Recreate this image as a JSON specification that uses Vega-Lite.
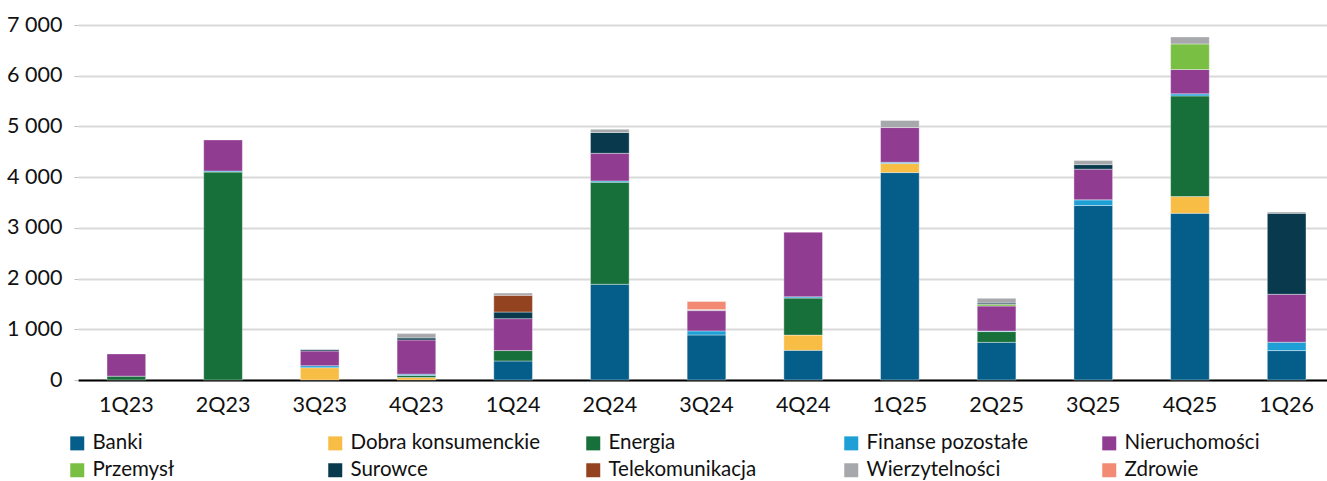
{
  "$schema": "https://vega.github.io/schema/vega-lite/v6.json",
  "width": 1249,
  "height": 355,
  "autosize": {"type": "none"},
  "padding": {"left": 78, "top": 25, "right": 0, "bottom": 101},
  "background": "white",
  "config": {
    "view": {"stroke": null},
    "font": "Lato",
    "axis": {"labelFont": "Lato", "labelFontSize": 21.5, "labelColor": "#111111"}
  },
  "data": {
    "values": [
      {"q": "1Q23", "s": "Energia", "v": 75},
      {"q": "1Q23", "s": "Nieruchomości", "v": 440},
      {"q": "2Q23", "s": "Energia", "v": 4100},
      {"q": "2Q23", "s": "Finanse pozostałe", "v": 20},
      {"q": "2Q23", "s": "Nieruchomości", "v": 614},
      {"q": "3Q23", "s": "Dobra konsumenckie", "v": 243},
      {"q": "3Q23", "s": "Finanse pozostałe", "v": 40},
      {"q": "3Q23", "s": "Nieruchomości", "v": 290},
      {"q": "3Q23", "s": "Surowce", "v": 25},
      {"q": "4Q23", "s": "Dobra konsumenckie", "v": 50},
      {"q": "4Q23", "s": "Energia", "v": 40},
      {"q": "4Q23", "s": "Finanse pozostałe", "v": 25},
      {"q": "4Q23", "s": "Nieruchomości", "v": 675},
      {"q": "4Q23", "s": "Surowce", "v": 40},
      {"q": "4Q23", "s": "Wierzytelności", "v": 85},
      {"q": "1Q24", "s": "Banki", "v": 375},
      {"q": "1Q24", "s": "Energia", "v": 205},
      {"q": "1Q24", "s": "Nieruchomości", "v": 630},
      {"q": "1Q24", "s": "Surowce", "v": 130},
      {"q": "1Q24", "s": "Telekomunikacja", "v": 330},
      {"q": "1Q24", "s": "Wierzytelności", "v": 45},
      {"q": "2Q24", "s": "Banki", "v": 1888},
      {"q": "2Q24", "s": "Energia", "v": 2012},
      {"q": "2Q24", "s": "Finanse pozostałe", "v": 25},
      {"q": "2Q24", "s": "Nieruchomości", "v": 545},
      {"q": "2Q24", "s": "Surowce", "v": 410},
      {"q": "2Q24", "s": "Wierzytelności", "v": 65},
      {"q": "3Q24", "s": "Banki", "v": 888},
      {"q": "3Q24", "s": "Finanse pozostałe", "v": 80},
      {"q": "3Q24", "s": "Nieruchomości", "v": 400},
      {"q": "3Q24", "s": "Wierzytelności", "v": 20},
      {"q": "3Q24", "s": "Zdrowie", "v": 160},
      {"q": "4Q24", "s": "Banki", "v": 585},
      {"q": "4Q24", "s": "Dobra konsumenckie", "v": 300},
      {"q": "4Q24", "s": "Energia", "v": 730},
      {"q": "4Q24", "s": "Finanse pozostałe", "v": 25},
      {"q": "4Q24", "s": "Nieruchomości", "v": 1275},
      {"q": "1Q25", "s": "Banki", "v": 4090},
      {"q": "1Q25", "s": "Dobra konsumenckie", "v": 178},
      {"q": "1Q25", "s": "Finanse pozostałe", "v": 25},
      {"q": "1Q25", "s": "Nieruchomości", "v": 685},
      {"q": "1Q25", "s": "Wierzytelności", "v": 140},
      {"q": "2Q25", "s": "Banki", "v": 743},
      {"q": "2Q25", "s": "Energia", "v": 212},
      {"q": "2Q25", "s": "Finanse pozostałe", "v": 10},
      {"q": "2Q25", "s": "Nieruchomości", "v": 495},
      {"q": "2Q25", "s": "Przemysł", "v": 33},
      {"q": "2Q25", "s": "Surowce", "v": 25},
      {"q": "2Q25", "s": "Wierzytelności", "v": 92},
      {"q": "3Q25", "s": "Banki", "v": 3440},
      {"q": "3Q25", "s": "Finanse pozostałe", "v": 112},
      {"q": "3Q25", "s": "Nieruchomości", "v": 605},
      {"q": "3Q25", "s": "Surowce", "v": 90},
      {"q": "3Q25", "s": "Wierzytelności", "v": 80},
      {"q": "4Q25", "s": "Banki", "v": 3287},
      {"q": "4Q25", "s": "Dobra konsumenckie", "v": 330},
      {"q": "4Q25", "s": "Energia", "v": 1985},
      {"q": "4Q25", "s": "Finanse pozostałe", "v": 40},
      {"q": "4Q25", "s": "Nieruchomości", "v": 480},
      {"q": "4Q25", "s": "Przemysł", "v": 505},
      {"q": "4Q25", "s": "Wierzytelności", "v": 138},
      {"q": "1Q26", "s": "Banki", "v": 580},
      {"q": "1Q26", "s": "Finanse pozostałe", "v": 165},
      {"q": "1Q26", "s": "Nieruchomości", "v": 945},
      {"q": "1Q26", "s": "Surowce", "v": 1598},
      {"q": "1Q26", "s": "Wierzytelności", "v": 25}
    ]
  },
  "mark": {"type": "bar", "stroke": "white", "strokeWidth": 0.7, "strokeOpacity": 0.55},
  "encoding": {
    "x": {
      "field": "q",
      "type": "nominal",
      "sort": null,
      "scale": {"range": [0, 1257], "paddingInner": 0.6, "paddingOuter": 0.3},
      "axis": {
        "title": null,
        "labelAngle": 0,
        "ticks": false,
        "domainColor": "#000000",
        "domainWidth": 2,
        "labelPadding": 14,
        "grid": false
      }
    },
    "y": {
      "field": "v",
      "type": "quantitative",
      "aggregate": "sum",
      "stack": "zero",
      "scale": {"domain": [0, 7000], "nice": false},
      "axis": {
        "title": null,
        "values": [0, 1000, 2000, 3000, 4000, 5000, 6000, 7000],
        "labelExpr": "replace(format(datum.value, ','), ',', ' ')",
        "domain": false,
        "tickSize": 4,
        "tickColor": "#BFBFBF",
        "labelPadding": 12,
        "gridColor": "#D9D9D9",
        "gridWidth": 1.8
      }
    },
    "color": {
      "field": "s",
      "type": "nominal",
      "scale": {
        "domain": ["Banki", "Dobra konsumenckie", "Energia", "Finanse pozostałe", "Nieruchomości", "Przemysł", "Surowce", "Telekomunikacja", "Wierzytelności", "Zdrowie"],
        "range": ["#055D8A", "#F7BD45", "#176F39", "#1E9FD6", "#8F3C91", "#79BF44", "#08394D", "#934320", "#A7A8AB", "#F38B74"]
      },
      "legend": {
        "title": null,
        "orient": "none",
        "legendX": -11,
        "legendY": 408,
        "direction": "horizontal",
        "columns": 5,
        "gridAlign": "all",
        "columnPadding": 42,
        "rowPadding": 6,
        "symbolType": "square",
        "symbolSize": 196,
        "symbolStrokeWidth": 0,
        "symbolOffset": 0,
        "labelOffset": 5,
        "labelFontSize": 20.5,
        "labelFont": "Lato",
        "labelColor": "#111111",
        "labelLimit": 400,
        "padding": 0
      }
    },
    "order": {"field": "s", "type": "nominal", "sort": "ascending"}
  }
}
